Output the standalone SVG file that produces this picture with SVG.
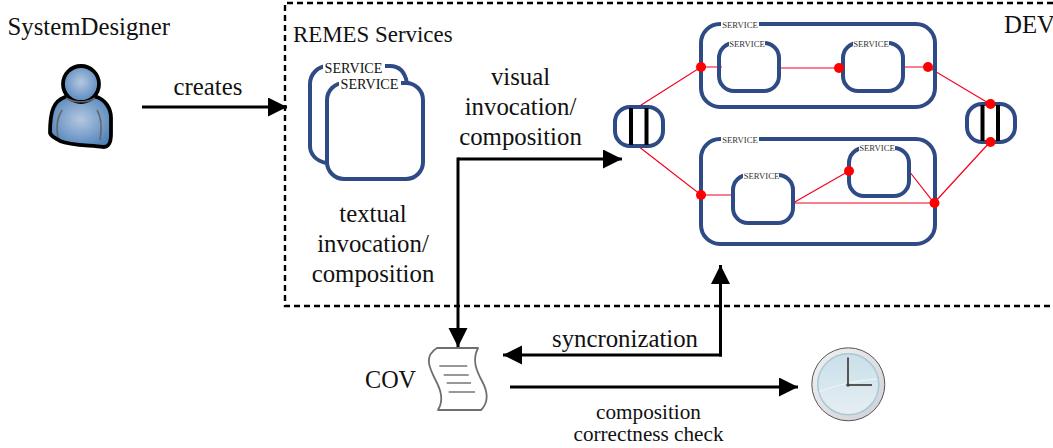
<svg xmlns="http://www.w3.org/2000/svg" width="1053" height="448" viewBox="0 0 1053 448">
<style>
text{font-family:"Liberation Serif","Times New Roman",serif;fill:#111}
.t{font-size:24.8px}
.m{text-anchor:middle}
.s{fill:#fff;stroke:#2f4b85;stroke-width:4}
.n{fill:none;stroke:#2f4b85;stroke-width:4}
.sl{font-size:8.7px;text-anchor:middle;fill:#333}
.mask{fill:#fff}
.r{fill:none;stroke:#f5001e;stroke-width:1.2}
.d{fill:#f00}
.a{fill:none;stroke:#000;stroke-width:3}
.b{stroke:#000;stroke-width:4}
.p{fill:none;stroke:#666;stroke-width:1.6}
.dl{fill:none;stroke:#777;stroke-width:1.6}
</style>
<defs>
<marker id="ah" markerUnits="userSpaceOnUse" markerWidth="20" markerHeight="20" refX="19" refY="9.5" orient="auto"><path d="M0,0L19,9.5L0,19Z" fill="#000"/></marker>
<radialGradient id="pg" cx="50%" cy="45%" r="60%"><stop offset="0" stop-color="#b5c8e0"/><stop offset="1" stop-color="#4f82bb"/></radialGradient>
<linearGradient id="cg" x1="0" y1="0" x2="0" y2="1"><stop offset="0" stop-color="#c9dfe9"/><stop offset="1" stop-color="#e6eff3"/></linearGradient>
<linearGradient id="cr" x1="0" y1="0" x2="1" y2="1"><stop offset="0" stop-color="#f2f2f4"/><stop offset="1" stop-color="#cfd0d6"/></linearGradient>
</defs>

<g id="boundary"><path d="M1053,3H285V306H1053" fill="none" stroke="#000" stroke-width="2.4" stroke-dasharray="6 4"/></g>

<g id="system-designer">
<text class="t" x="7.500" y="35">SystemDesigner</text>
<path d="M65,97C54,101 50,110 50,133C52,138 57,138 60,141C72,146 92,145 103,147C109,147 111,143 111,134V118C111,108 105,100 97,97Z" fill="url(#pg)" stroke="#000" stroke-width="3.800" stroke-linejoin="round"/>
<circle cx="81" cy="84" r="18" fill="url(#pg)" stroke="#000" stroke-width="3.800"/>
<path class="p" d="M62,110C57,118 56,128 58,137M97,110C102,118 102,128 100,140M66,98C74,103 88,103 95,98"/>
</g>

<g id="remes-services">
<text x="293" y="42" style="font-size:22.900px">REMES Services</text>
<path class="n" d="M326,163C316,161 310,154 310,146V84C310,74 318,66 328,66H390C399,66 405,72 407,83"/>
<rect class="s" x="327" y="83" width="96" height="96" rx="17" fill="#fff"/>
<rect class="mask" x="323" y="60" width="62" height="13"/>
<text x="353.500" y="73" style="font-size:14.200px;text-anchor:middle">SERVICE</text>
<rect class="mask" x="339" y="77" width="62" height="13"/>
<text x="369.500" y="88.500" style="font-size:14.200px;text-anchor:middle">SERVICE</text>
<text class="t m" x="373" y="222">textual</text>
<text class="t m" x="373" y="252">invocation/</text>
<text class="t m" x="373" y="282">composition</text>
</g>

<g id="connectors">
<path class="r" d="M638,107L701,67H722M779,68H839M903,67H928L990,104M638,146L701,195H733M793,203L849,171M793,203H934L909,171M934,203L990,142"/>
<path class="a" d="M142,107H287" marker-end="url(#ah)"/>
<path class="a" d="M458,159H622" marker-end="url(#ah)"/>
<path class="a" d="M458,157.500V347" marker-end="url(#ah)"/>
<path class="a" d="M722,355H503" marker-end="url(#ah)"/>
<path class="a" d="M720.500,356.500V265" marker-end="url(#ah)"/>
<path class="a" d="M510,387H798" marker-end="url(#ah)"/>
</g>

<g id="service-top">
<rect class="n" x="701" y="24" width="234" height="83" rx="19"/>
<rect class="mask" x="721" y="19" width="38" height="11"/>
<text class="sl" x="740" y="28">SERVICE</text>
<rect class="n" x="719" y="43" width="60" height="48" rx="15"/>
<rect class="mask" x="729" y="39" width="36" height="9"/>
<text class="sl" x="747" y="47">SERVICE</text>
<rect class="n" x="843" y="43" width="60" height="48" rx="15"/>
<rect class="mask" x="853" y="39" width="36" height="9"/>
<text class="sl" x="871" y="47">SERVICE</text>
</g>

<g id="service-bottom">
<rect class="n" x="701" y="139" width="234" height="105" rx="19"/>
<rect class="mask" x="721" y="134" width="38" height="11"/>
<text class="sl" x="740" y="143">SERVICE</text>
<rect class="n" x="733" y="175" width="60" height="48" rx="15"/>
<rect class="mask" x="743" y="171" width="36" height="9"/>
<text class="sl" x="761.500" y="179">SERVICE</text>
<rect class="n" x="849" y="148" width="60" height="48" rx="15"/>
<rect class="mask" x="859" y="144" width="36" height="9"/>
<text class="sl" x="877" y="151">SERVICE</text>
</g>

<g id="fork-left">
<rect class="n" x="615" y="107" width="48" height="39" rx="15"/>
<path class="b" d="M631,108V145M646.500,108V145"/>
</g>
<g id="fork-right">
<rect class="n" x="967" y="104" width="48" height="38" rx="15"/>
<path class="b" d="M982.500,105V141M998,105V141"/>
</g>

<g id="junctions">
<circle class="d" cx="701" cy="67" r="5"/>
<circle class="d" cx="839" cy="68" r="5"/>
<circle class="d" cx="928" cy="67" r="5"/>
<circle class="d" cx="990.500" cy="104" r="5"/>
<circle class="d" cx="990.500" cy="142" r="5"/>
<circle class="d" cx="701" cy="195" r="5"/>
<circle class="d" cx="849" cy="171" r="5"/>
<circle class="d" cx="934.500" cy="203" r="5"/>
</g>

<g id="labels">
<text class="t m" x="208" y="95">creates</text>
<text class="t m" x="520.500" y="85">visual</text>
<text class="t m" x="520.500" y="115">invocation/</text>
<text class="t m" x="520.500" y="145">composition</text>
<text class="t m" x="625" y="347">syncronization</text>
<text class="m" x="648.500" y="419" style="font-size:21.200px">composition</text>
<text class="m" x="648.500" y="441" style="font-size:21.200px">correctness check</text>
<text class="t" x="1004" y="33">DEV</text>
</g>

<g id="cov">
<text class="t" x="365" y="388" style="font-size:24.200px">COV</text>
<path d="M437,348H478C472,360 476,370 482,381C488,392 489,402 481,410H438C444,400 441,390 435,379C429,367 424,356 437,348Z" fill="#fff" stroke="#6e6e6e" stroke-width="1.800" stroke-linejoin="round"/>
<path class="dl" d="M439.300,366H467.300M443.700,375H468.700M446.700,383H471M448.700,392H475"/>
</g>

<g id="clock">
<circle cx="848.300" cy="384.300" r="36.500" fill="url(#cr)" stroke="#555" stroke-width="1"/>
<circle cx="848.300" cy="384.300" r="30.500" fill="url(#cg)" stroke="#a9c9d6" stroke-width="1.500"/>
<path d="M819,392C835,385 860,380 877,379" fill="none" stroke="#f2f7f9" stroke-width="1"/>
<path d="M848,357.500V385H872" fill="none" stroke="#555" stroke-width="2"/>
<circle cx="848" cy="385" r="1.800" fill="#444"/>
</g>
</svg>
